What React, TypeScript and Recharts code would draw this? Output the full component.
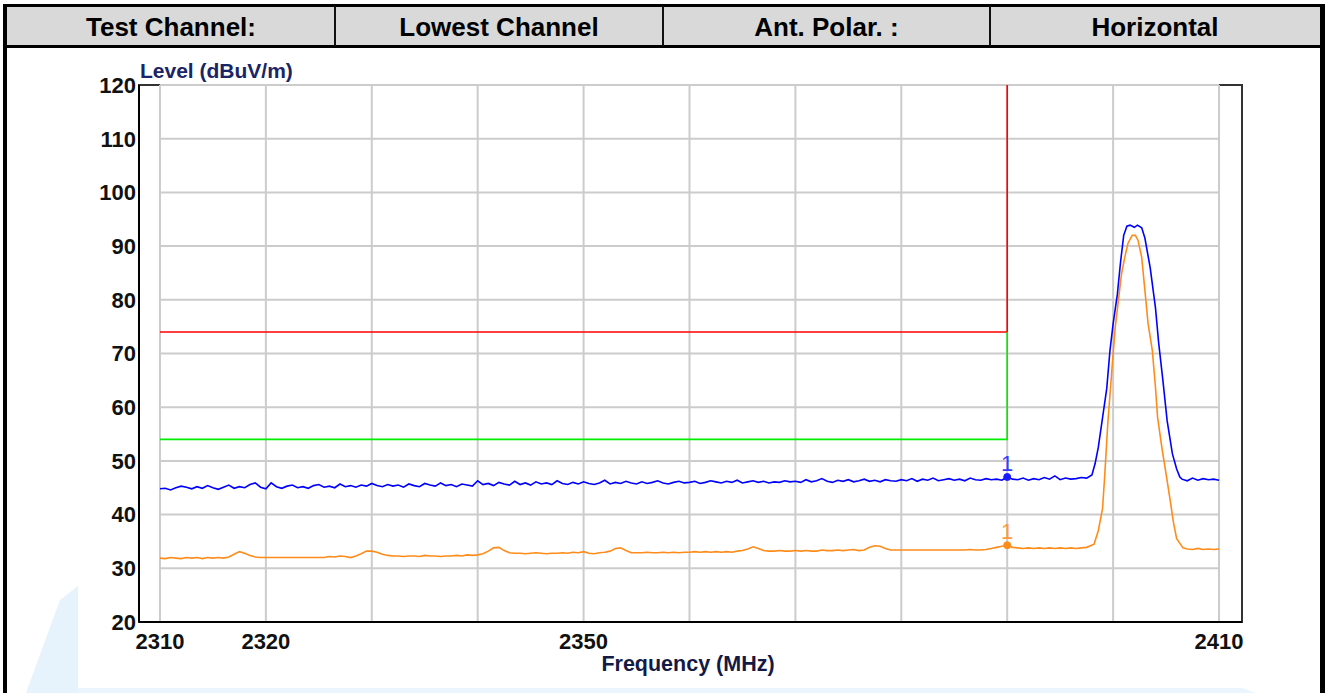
import React from 'react';
import { LineChart, Line, XAxis, YAxis, ReferenceLine, ReferenceArea, ReferenceDot } from 'recharts';

// ---------- header ----------
const headerCells = ['Test Channel:', 'Lowest Channel', 'Ant. Polar. :', 'Horizontal'];

// ---------- axes ----------
const xDomain = [2308.02, 2412.17];
const yDomain = [20, 120];
const xTickLabels = [2310, 2320, 2350, 2410];
const yTickLabels = [20, 30, 40, 50, 60, 70, 80, 90, 100, 110, 120];
const gridFreqs = [2310, 2320, 2330, 2340, 2350, 2360, 2370, 2380, 2390, 2400, 2410];
const gridLevels = [20, 30, 40, 50, 60, 70, 80, 90, 100, 110, 120];

// ---------- limit lines ----------
const peakLimitFreq = [2310, 2390, 2390];
const peakLimitLevel = [74, 74, 120];
const avgLimitFreq = [2310, 2390, 2390];
const avgLimitLevel = [54, 54, 74];

// ---------- peak trace (blue) ----------
const sweepStart = 2310;
const sweepStep = 0.5;
const blueNoise = [
  44.8, 44.9, 44.6, 45.0, 45.3, 45.1, 44.8, 45.2, 44.9, 45.4, 45.0, 44.7, 45.1, 45.5, 44.9, 45.2, 45.0, 45.6, 45.9, 45.1,
  44.8, 45.9, 45.2, 44.9, 45.3, 45.5, 45.0, 45.2, 44.9, 45.4, 45.6, 45.1, 45.3, 45.0, 45.7, 45.2, 45.4, 45.1, 45.5, 45.3,
  45.8, 45.4, 45.2, 45.6, 45.3, 45.5, 45.1, 45.7, 45.4, 45.2, 45.8, 45.5, 45.3, 45.9, 45.4, 45.6, 45.2, 45.7, 45.5, 45.3,
  46.3, 45.6, 45.8, 45.4, 46.0, 45.7, 45.5, 46.2, 45.6, 45.9, 45.5, 46.1, 45.7, 45.9, 45.6, 46.3, 45.8, 45.6, 46.0, 45.7,
  46.1, 45.8, 45.6, 45.9, 46.4, 45.7, 46.0, 45.8, 46.2, 45.9, 45.7, 46.1, 45.8, 46.0, 46.3, 45.9, 45.7, 46.0, 46.2, 45.9,
  46.0, 46.2, 45.8, 46.0, 46.3, 46.1, 45.9, 46.2, 46.0, 46.4, 45.9, 46.1, 46.3, 46.0, 46.2, 45.9, 46.1, 46.0, 46.3, 46.1,
  46.2, 46.0, 46.5, 46.1, 46.3, 46.7, 46.2, 46.0, 46.4, 46.2, 46.5, 46.1, 46.3, 46.6, 46.2, 46.4, 46.1, 46.5, 46.3, 46.2,
  46.5, 46.3, 46.7, 46.2, 46.6, 46.4, 46.8, 46.3, 46.5, 46.7, 46.4, 46.6, 46.3, 46.8, 46.5, 46.4, 46.7, 46.5, 46.6, 46.4,
  47.0, 46.6, 46.5, 46.8, 46.4, 46.7, 46.5, 46.9, 46.6, 47.2, 46.5, 46.8, 46.6, 46.7, 46.9, 46.8,
];
const bluePeakFreq = [
  2398.0, 2398.3, 2398.6, 2399.0, 2399.4, 2399.7, 2400.0, 2400.4, 2400.7, 2401.0, 2401.3, 2401.6,
  2402.0, 2402.3, 2402.7, 2403.0, 2403.5, 2404.0, 2404.3, 2404.7, 2405.1, 2405.6, 2406.0, 2406.3,
  2406.5, 2407.0, 2407.5, 2408.0, 2408.5, 2409.0, 2409.5, 2410.0,
];
const bluePeakLevel = [
  47.4, 49.5, 52.5, 58.0, 63.5, 70.5, 75.5, 81.0, 87.0, 92.0, 93.7, 93.9,
  93.5, 93.9, 93.4, 91.5, 86.0, 78.5, 72.0, 65.0, 57.5, 51.3, 48.5, 47.0,
  46.6, 46.3, 46.8, 46.4, 46.7, 46.5, 46.6, 46.4,
];

// ---------- average trace (orange) ----------
const orangeNoise = [
  31.9, 31.8, 32.0, 31.9, 31.8, 32.0, 31.9, 32.0, 31.8, 32.0, 31.9, 32.0, 31.9, 32.1, 32.6, 33.1, 32.8, 32.4, 32.1, 32.0,
  32.0, 32.0, 32.0, 32.0, 32.0, 32.0, 32.0, 32.0, 32.0, 32.0, 32.0, 32.0, 32.2, 32.1, 32.3, 32.2, 32.0, 32.3, 32.7, 33.2,
  33.2, 33.0, 32.6, 32.4, 32.3, 32.3, 32.2, 32.3, 32.3, 32.2, 32.4, 32.3, 32.3, 32.2, 32.3, 32.3, 32.4, 32.3, 32.5, 32.4,
  32.5, 32.7, 33.2, 33.8, 33.9, 33.3, 32.9, 32.8, 32.8, 32.7, 32.8, 32.9, 32.8, 32.7, 32.8, 32.8, 32.9, 32.8, 33.0, 32.9,
  33.1, 32.8, 32.7, 32.9, 33.0, 33.2, 33.7, 33.8, 33.3, 32.9, 32.9, 32.9, 33.0, 32.9, 32.9, 33.0, 32.9, 33.0, 32.9, 33.0,
  33.0, 33.1, 33.0, 33.1, 33.0, 33.1, 33.0, 33.1, 33.0, 33.2, 33.3, 33.6, 34.0, 33.7, 33.3, 33.2, 33.2, 33.3, 33.2, 33.2,
  33.3, 33.2, 33.3, 33.2, 33.2, 33.4, 33.3, 33.3, 33.4, 33.3, 33.4, 33.5, 33.3, 33.4, 33.9, 34.2, 34.1, 33.7, 33.4, 33.4,
  33.4, 33.4, 33.4, 33.4, 33.4, 33.4, 33.4, 33.4, 33.4, 33.4, 33.4, 33.4, 33.4, 33.5, 33.4, 33.4, 33.5, 33.7, 33.9, 34.1,
  34.3, 33.9, 33.8, 33.7, 33.8, 33.7, 33.8, 33.7, 33.8, 33.7, 33.8, 33.7, 33.8, 33.7, 33.8, 33.9,
];
const orangePeakFreq = [
  2398.2, 2398.6, 2399.0, 2399.2, 2399.5, 2399.9, 2400.2, 2400.5, 2400.8, 2401.1, 2401.4, 2401.8,
  2402.1, 2402.35, 2402.7, 2403.0, 2403.3, 2403.7, 2404.0, 2404.2, 2404.6, 2405.0, 2405.4, 2405.7,
  2406.0, 2406.6, 2407.0, 2407.5, 2408.0, 2408.5, 2409.0, 2409.5, 2410.0,
];
const orangePeakLevel = [
  34.5, 37.0, 41.1, 47.0, 57.0, 67.4, 74.9, 79.9, 84.9, 87.9, 90.5, 92.0,
  92.0, 91.1, 87.9, 81.8, 75.6, 70.6, 63.7, 58.1, 52.5, 47.6, 42.5, 38.5,
  35.5, 33.8, 33.6, 33.5, 33.7, 33.5, 33.6, 33.5, 33.6,
];

// ---------- markers ----------
const markerFreq = 2390;
const blueMarkerLevel = 47.0;
const orangeMarkerLevel = 34.3;
const markerLabel = '1';

// ---------- build tables ----------
const toRows = (fs: number[], vs: number[]) => fs.map((f, i) => ({ f, v: vs[i] }));
const noiseRows = (vs: number[]) => vs.map((v, i) => ({ f: sweepStart + i * sweepStep, v }));
const blueData = [...noiseRows(blueNoise), ...toRows(bluePeakFreq, bluePeakLevel)];
const orangeData = [...noiseRows(orangeNoise), ...toRows(orangePeakFreq, orangePeakLevel)];
const peakLimit = toRows(peakLimitFreq, peakLimitLevel);
const avgLimit = toRows(avgLimitFreq, avgLimitLevel);

const FONT = '"Liberation Sans", Arial, Helvetica, sans-serif';
const cellEdges = [7, 335, 663, 990, 1320];

export default function App() {
  return (
    <div
      style={{
        position: 'absolute',
        left: 0,
        top: 0,
        width: 1326,
        height: 693,
        background: '#ffffff',
        fontFamily: FONT,
        overflow: 'hidden',
      }}
    >
      {/* table frame, header row and faint watermark */}
      <svg width={1326} height={693} style={{ position: 'absolute', left: 0, top: 0 }}>
        <polygon points="60,600 78,586 78,693 26,693" fill="#e6f3fc" />
        <polygon points="78,688 1242,688 1256,693 78,693" fill="#eaf5fd" />
        <rect x={5} y={6} width={1317} height={40} fill="#d9d9d9" />
        <rect x={3} y={4} width={1322} height={3} fill="#000" />
        <rect x={3} y={45} width={1322} height={3} fill="#000" />
        <rect x={3} y={4} width={4} height={700} fill="#000" />
        <rect x={1320} y={4} width={5} height={700} fill="#000" />
        {cellEdges.slice(1, 4).map((x) => (
          <rect key={x} x={x - 1} y={6} width={2} height={40} fill="#111" />
        ))}
        {headerCells.map((t, i) => (
          <text
            key={t}
            x={(cellEdges[i] + cellEdges[i + 1]) / 2}
            y={36}
            textAnchor="middle"
            fontFamily={FONT}
            fontWeight="bold"
            fontSize={26}
            fill="#000"
          >
            {t}
          </text>
        ))}
        <text x={140} y={78} fontFamily={FONT} fontWeight="bold" fontSize={21} fill="#1a2466">
          Level (dBuV/m)
        </text>
        <text x={688} y={671} textAnchor="middle" fontFamily={FONT} fontWeight="bold" fontSize={21.5} fill="#141a44">
          Frequency (MHz)
        </text>
      </svg>

      <div style={{ position: 'absolute', left: 0, top: 0 }}>
        <LineChart width={1326} height={693} margin={{ top: 85, right: 84, bottom: 41, left: 79 }}>
          <XAxis
            dataKey="f"
            type="number"
            domain={xDomain}
            ticks={xTickLabels}
            allowDataOverflow
            tickLine={false}
            tickSize={0}
            tickMargin={11}
            height={30}
            axisLine={{ stroke: '#000', strokeWidth: 2 }}
            tick={{ fontFamily: FONT, fontWeight: 'bold', fontSize: 22, fill: '#111' }}
          />
          <YAxis
            type="number"
            domain={yDomain}
            ticks={yTickLabels}
            allowDataOverflow
            tickLine={false}
            tickSize={0}
            tickMargin={3}
            width={60}
            axisLine={{ stroke: '#000', strokeWidth: 2 }}
            tick={{ fontFamily: FONT, fontWeight: 'bold', fontSize: 22, fill: '#111' }}
          />
          {gridFreqs.map((f) => (
            <ReferenceLine
              key={'gx' + f}
              segment={[{ x: f, y: yDomain[0] }, { x: f, y: yDomain[1] }]}
              stroke="#cccccc"
              strokeWidth={2}
            />
          ))}
          {gridLevels.map((l) => (
            <ReferenceLine
              key={'gy' + l}
              segment={[{ x: gridFreqs[0], y: l }, { x: gridFreqs[gridFreqs.length - 1], y: l }]}
              stroke="#cccccc"
              strokeWidth={2}
            />
          ))}
          <Line data={peakLimit} dataKey="v" stroke="#ff0000" strokeWidth={1.6} dot={false} isAnimationActive={false} type="linear" />
          <Line data={avgLimit} dataKey="v" stroke="#00ee00" strokeWidth={1.6} dot={false} isAnimationActive={false} type="linear" />
          <Line data={orangeData} dataKey="v" stroke="#ff8c1a" strokeWidth={1.6} dot={false} isAnimationActive={false} type="linear" />
          <Line data={blueData} dataKey="v" stroke="#0000ff" strokeWidth={1.6} dot={false} isAnimationActive={false} type="linear" />
          <ReferenceDot
            x={markerFreq}
            y={blueMarkerLevel}
            r={3.5}
            fill="#1a1aff"
            stroke="#1a1aff"
            label={{ value: markerLabel, position: 'top', offset: 3, fill: '#3a3aff', fontSize: 22, fontFamily: FONT }}
          />
          <ReferenceDot
            x={markerFreq}
            y={orangeMarkerLevel}
            r={3.5}
            fill="#ff8c1a"
            stroke="#ff8c1a"
            label={{ value: markerLabel, position: 'top', offset: 3, fill: '#ff9a3a', fontSize: 22, fontFamily: FONT }}
          />
          <ReferenceArea y1={yDomain[0]} y2={yDomain[1]} fill="none" stroke="#333" strokeWidth={2} ifOverflow="visible" />
        </LineChart>
      </div>
    </div>
  );
}
